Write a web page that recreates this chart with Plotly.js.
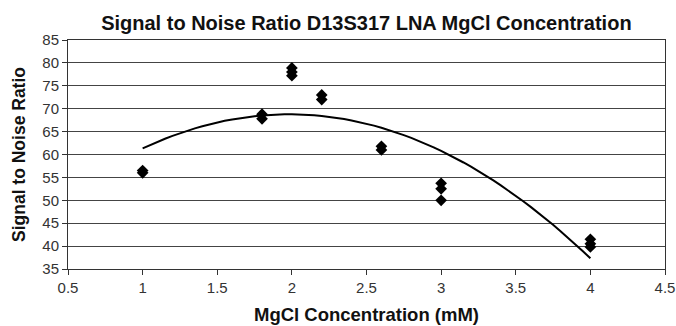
<!DOCTYPE html>
<html><head><meta charset="utf-8">
<script src="https://cdn.plot.ly/plotly-3.0.1.min.js"></script>
<style>html,body{margin:0;padding:0;background:#fff}#chart{width:676px;height:326px}</style>
</head><body><div id="chart"></div>
<script>
const concentration = [1, 1, 1.8, 1.8, 2, 2, 2, 2.2, 2.2, 2.6, 2.6, 3, 3, 3, 4, 4, 4];
const snr = [56.0, 56.5, 67.8, 68.8, 77.2, 78.0, 78.9, 72.0, 73.0, 61.0, 61.8, 53.7, 52.5, 50.0, 41.5, 40.5, 39.8];
const xTicks = [0.5, 1, 1.5, 2, 2.5, 3, 3.5, 4, 4.5];
const yTicks = [35, 40, 45, 50, 55, 60, 65, 70, 75, 80, 85];

// polynomial (order 2) least-squares trendline from the data
function quadFit(xs, ys) {
  let S = [0,0,0,0,0], T = [0,0,0];
  for (let i = 0; i < xs.length; i++) {
    let p = 1;
    for (let k = 0; k < 5; k++) { S[k] += p; if (k < 3) T[k] += p * ys[i]; p *= xs[i]; }
  }
  const A = [[S[0],S[1],S[2],T[0]],[S[1],S[2],S[3],T[1]],[S[2],S[3],S[4],T[2]]];
  for (let c = 0; c < 3; c++) {
    for (let r = c + 1; r < 3; r++) {
      const f = A[r][c] / A[c][c];
      for (let k = c; k < 4; k++) A[r][k] -= f * A[c][k];
    }
  }
  const b = [0,0,0];
  for (let r = 2; r >= 0; r--) {
    let s = A[r][3];
    for (let k = r + 1; k < 3; k++) s -= A[r][k] * b[k];
    b[r] = s / A[r][r];
  }
  return b;
}
const coef = quadFit(concentration, snr);
const xmin = Math.min(...concentration), xmax = Math.max(...concentration);
const fitX = [], fitY = [];
for (let i = 0; i <= 60; i++) {
  const x = xmin + (xmax - xmin) * i / 60;
  fitX.push(x); fitY.push(coef[0] + coef[1] * x + coef[2] * x * x);
}

const font = 'Liberation Sans, Arial, sans-serif';
const data = [
  {x: fitX, y: fitY, mode: 'lines', line: {color: '#000', width: 2}, hoverinfo: 'skip'},
  {x: concentration, y: snr, mode: 'markers', marker: {symbol: 'diamond', size: 9, color: '#000'}}
];
const layout = {
  width: 676, height: 326,
  margin: {l: 68, r: 11, t: 40, b: 57},
  paper_bgcolor: '#fff', plot_bgcolor: '#fff',
  showlegend: false,
  font: {family: font, color: '#222', size: 15},
  title: {text: '<b>Signal to Noise Ratio D13S317 LNA MgCl Concentration</b>', font: {family: font, size: 20, color: '#111'}, x: 0.542, xanchor: 'center', y: 0.928, yanchor: 'middle'},
  xaxis: {
    range: [0.5, 4.5], tickvals: xTicks, ticktext: xTicks.map(String),
    showgrid: false, zeroline: false,
    showline: true, linecolor: '#333', linewidth: 1, mirror: true,
    ticks: 'outside', ticklen: 5, tickcolor: '#333',
    tickfont: {size: 15, color: '#333'},
    title: {text: '<b>MgCl Concentration (mM)</b>', font: {size: 18.5, color: '#111'}, standoff: 13}
  },
  yaxis: {
    range: [35, 85], tickvals: yTicks, ticktext: yTicks.map(String),
    showgrid: true, gridcolor: '#444', gridwidth: 1, zeroline: false,
    showline: true, linecolor: '#333', linewidth: 1, mirror: true,
    ticks: 'outside', ticklen: 5, tickcolor: '#333',
    tickfont: {size: 15, color: '#333'},
    title: {text: '<b>Signal to Noise Ratio</b>', font: {size: 17.5, color: '#111'}, standoff: 12}
  }
};
Plotly.newPlot('chart', data, layout, {displayModeBar: false, staticPlot: true});
</script></body></html>
